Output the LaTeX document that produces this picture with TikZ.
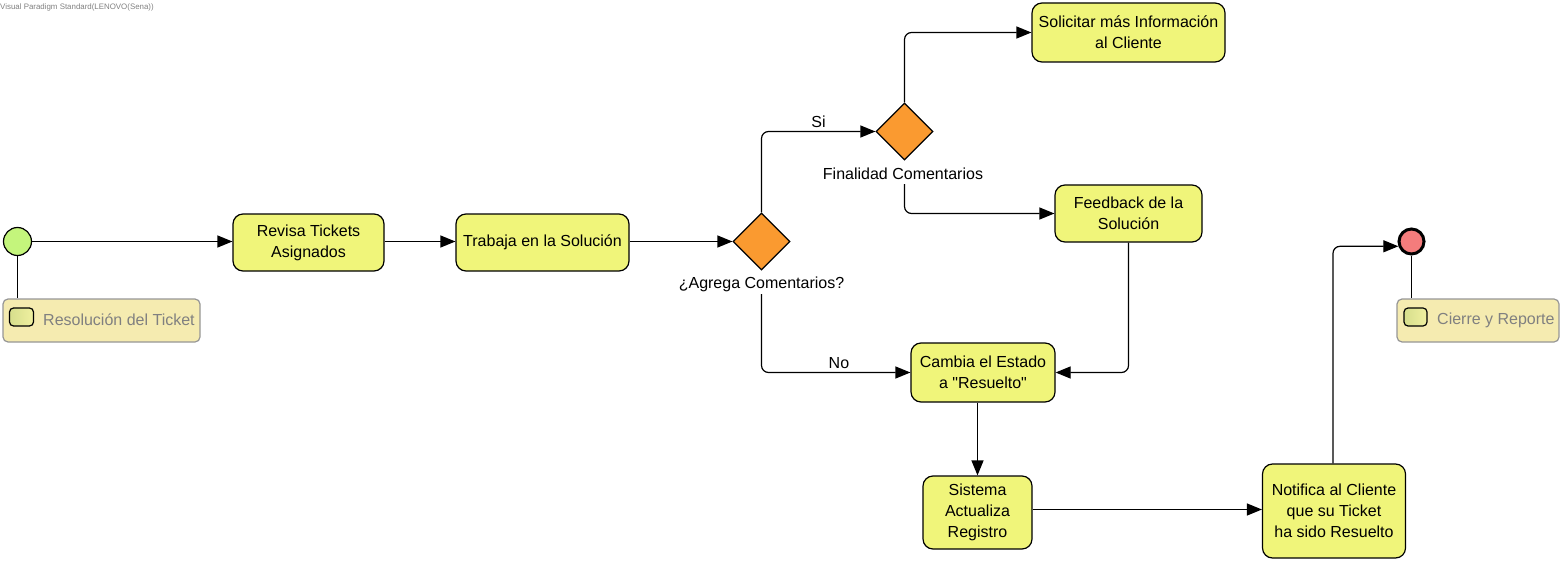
\documentclass[tikz,border=0pt]{standalone}
\usepackage{fontspec}
\setmainfont{Liberation Sans}[Ligatures=TeXOff]
\usetikzlibrary{arrows.meta,shapes.geometric}
\definecolor{actfill}{RGB}{240,245,122}
\definecolor{decfill}{RGB}{250,154,48}
\definecolor{initfill}{RGB}{196,245,124}
\definecolor{finfill}{RGB}{244,124,124}
\definecolor{labfill}{RGB}{245,235,176}
\definecolor{labdraw}{RGB}{150,150,150}
\definecolor{labtext}{RGB}{128,128,128}
\definecolor{iconL}{RGB}{214,222,140}
\definecolor{iconR}{RGB}{240,240,160}
\begin{document}
\begin{tikzpicture}[x=1pt,y=-1pt,
  txt/.style={font=\fontsize{16}{21}\selectfont},
  act/.style={txt, draw, fill=actfill, rounded corners=10pt, line width=1.2pt, align=center, inner sep=0pt},
  dec/.style={draw, fill=decfill, diamond, aspect=1, minimum width=57pt, minimum height=57pt, inner sep=0pt, line width=1.2pt},
  flow/.style={line width=1.2pt, rounded corners=7pt, -{Triangle[length=15pt,width=12pt]}},
  plain/.style={line width=1.2pt},
  swlab/.style={draw=labdraw, fill=labfill, rounded corners=5pt, line width=1.2pt, inner sep=0pt},
  swicon/.style={draw, left color=iconL, right color=iconR, rounded corners=4pt, line width=1.2pt, inner sep=0pt},
  swtext/.style={txt, text=labtext, inner sep=0pt, anchor=west}
]
\useasboundingbox (0,0) rectangle (1562,564);

\node[anchor=west, inner sep=0pt, text=labtext, font=\fontsize{7.9}{8}\selectfont] (hdr) at (0,7) {Visual Paradigm Standard(LENOVO(Sena))};

% start
\node[circle, draw, fill=initfill, minimum size=28pt, inner sep=0pt, line width=1.2pt] (init) at (17.5,241.5) {};
\node[swlab, minimum width=197pt, minimum height=43pt] (lab1) at (101.5,320.5) {};
\node[swicon, minimum width=24pt, minimum height=18pt] (ic1) at (21.5,317) {};
\node[swtext] (lt1) at (43,320) {Resolución del Ticket};

% actions
\node[act, minimum width=151pt, minimum height=57pt] (revisa) at (308.5,242.5) {Revisa Tickets\\Asignados};
\node[act, minimum width=173pt, minimum height=57pt] (trabaja) at (542.5,242.5) {Trabaja en la Solución};
\node[dec] (d1) at (761.5,241.5) {};
\node[txt, inner sep=0pt, minimum height=20pt] (d1lab) at (761.5,284) {¿Agrega Comentarios?};
\node[dec] (d2) at (904.5,131.5) {};
\node[txt, inner sep=0pt, minimum height=20pt] (d2lab) at (903,174) {Finalidad Comentarios};
\node[act, minimum width=193pt, minimum height=59pt] (solic) at (1128.5,32.5) {Solicitar más Información\\al Cliente};
\node[act, minimum width=147pt, minimum height=57pt] (feed) at (1128.5,213.5) {Feedback de la\\Solución};
\node[act, minimum width=144pt, minimum height=59pt] (cambia) at (983,372.5) {Cambia el Estado\\a "Resuelto"};
\node[act, minimum width=109pt, minimum height=73pt] (sist) at (977.5,512.5) {Sistema\\Actualiza\\Registro};
\node[act, minimum width=143pt, minimum height=94pt] (notif) at (1334,511) {Notifica al Cliente\\que su Ticket\\ha sido Resuelto};

% end
\node[circle, draw, fill=finfill, minimum size=25pt, inner sep=0pt, line width=3pt] (final) at (1411.5,241.5) {};
\node[swlab, minimum width=162pt, minimum height=43pt] (lab2) at (1478,320.5) {};
\node[swicon, minimum width=23pt, minimum height=18pt] (ic2) at (1415.5,317) {};
\node[swtext] (lt2) at (1437,320) {Cierre y Reporte};

% connectors
\draw[flow] (init.east) -- (init.east -| revisa.west);
\draw[plain] (init.south) -- (init.south |- lab1.north);
\draw[flow] (revisa.east |- init.east) -- (trabaja.west |- init.east);
\draw[flow] (trabaja.east |- d1.west) -- (d1.west);
\draw[flow] (d1.north) |- node[pos=0.75, above, txt, inner sep=3pt] {Si} (d2.west);
\draw[flow] (d2.north) |- (solic.west);
\draw[flow] (d2lab.south -| d2.north) |- (feed.west);
\draw[flow] (feed.south) |- (cambia.east);
\draw[flow] (d1lab.south -| d1.south) |- node[pos=0.76, above, txt, inner sep=3pt] {No} (cambia.west);
\draw[flow] (cambia.south -| sist.north) -- (sist.north);
\draw[flow] ([yshift=3pt]sist.east) -- ([yshift=3pt]sist.east -| notif.west);
\draw[flow] ([xshift=-1pt]notif.north) |- (final.200);
\draw[plain] (final.south) -- (final.south |- lab2.north);
\end{tikzpicture}
\end{document}
